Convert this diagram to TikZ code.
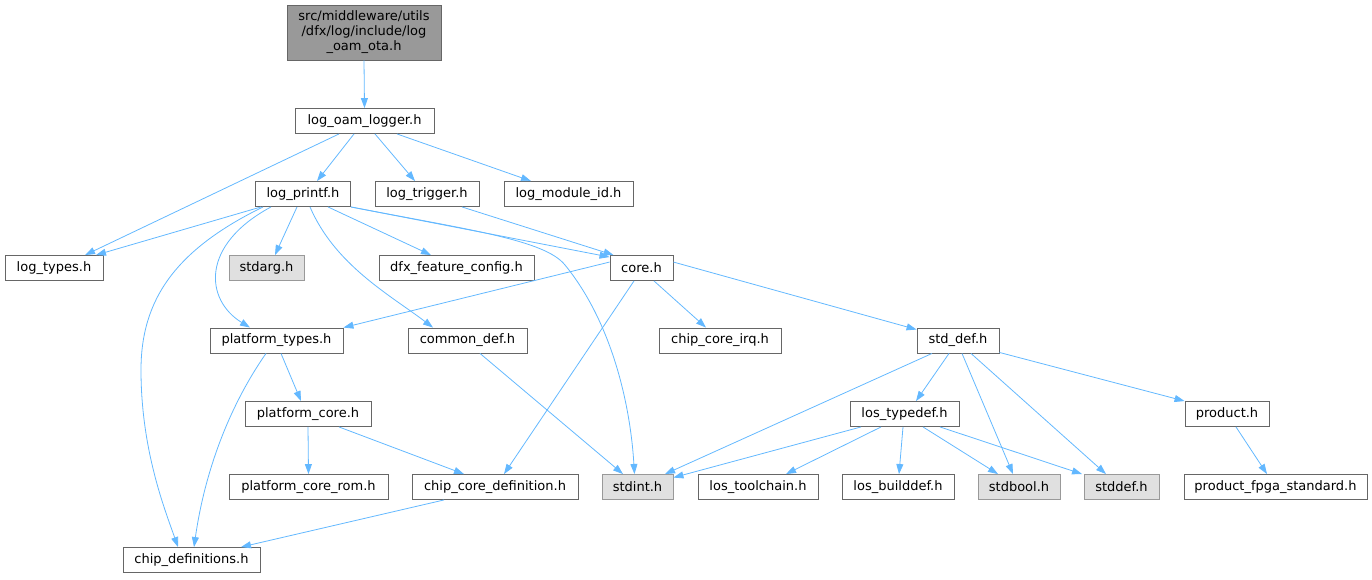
\documentclass[tikz,border=0pt]{standalone}
\usepackage{fontspec}
\setmainfont{DejaVu Sans}
\usetikzlibrary{arrows.meta}
\definecolor{edgec}{HTML}{63B8FF}
\definecolor{bord}{HTML}{666666}
\definecolor{gbord}{HTML}{999999}
\definecolor{gfill}{HTML}{E0E0E0}
\definecolor{rootfill}{HTML}{999999}
\tikzset{
 file/.style={draw=bord, fill=white, line width=0.9pt, minimum height=25pt, inner sep=0pt, font=\fontsize{13}{15}\selectfont, anchor=center},
 sys/.style={file, draw=gbord, fill=gfill},
 dep/.style={draw=edgec, line width=0.8pt, -{Triangle[length=10pt,width=7pt]}}
}
\begin{document}
\begin{tikzpicture}[x=1pt,y=-1pt]
\useasboundingbox (0,0) rectangle (1372,579);
\node[file, minimum width=154pt, minimum height=55pt, fill=rootfill, align=center] (root) at (364,32.5) {src/middleware/utils\\/dfx/log/include/log\\\_oam\_ota.h};
\node[file, minimum width=139pt] (lol) at (364.5,121) {log\_oam\_logger.h};
\node[file, minimum width=95pt] (lp) at (303,194) {log\_printf.h};
\node[file, minimum width=104pt] (ltr) at (427,194) {log\_trigger.h};
\node[file, minimum width=129pt] (lmi) at (568.5,194) {log\_module\_id.h};
\node[file, minimum width=98pt] (lty) at (54,268) {log\_types.h};
\node[sys, minimum width=75pt] (sa) at (266.5,268) {stdarg.h};
\node[file, minimum width=155pt] (dfc) at (456.5,268) {dfx\_feature\_config.h};
\node[file, minimum width=63pt] (core) at (641.5,268) {core.h};
\node[file, minimum width=133pt] (pt) at (276.5,340.5) {platform\_types.h};
\node[file, minimum width=119pt] (cd) at (467.5,340.5) {common\_def.h};
\node[file, minimum width=122pt] (cci) at (720,340.5) {chip\_core\_irq.h};
\node[file, minimum width=82pt] (sd) at (958,340.5) {std\_def.h};
\node[file, minimum width=126pt] (pc) at (308,414) {platform\_core.h};
\node[file, minimum width=109pt] (lt) at (904.5,414) {los\_typedef.h};
\node[file, minimum width=84pt] (prod) at (1227,414) {product.h};
\node[file, minimum width=159pt] (pcr) at (308.5,487) {platform\_core\_rom.h};
\node[file, minimum width=166pt] (ccd) at (495,487) {chip\_core\_definition.h};
\node[sys, minimum width=71pt] (si) at (637.5,487) {stdint.h};
\node[file, minimum width=120pt] (ltc) at (758,487) {los\_toolchain.h};
\node[file, minimum width=112pt] (lbd) at (898,487) {los\_builddef.h};
\node[sys, minimum width=82pt] (sb) at (1019,487) {stdbool.h};
\node[sys, minimum width=75pt] (sdf) at (1121.5,487) {stddef.h};
\node[file, minimum width=183pt] (pfs) at (1275.5,487) {product\_fpga\_standard.h};
\node[file, minimum width=137pt] (chd) at (191.5,560) {chip\_definitions.h};

\draw[dep] (root.south) -- (lol.north);
\draw[dep] ([xshift=-25.5pt]lol.south) -- ([xshift=31pt]lty.north);
\draw[dep] ([xshift=-10.5pt]lol.south) -- ([xshift=14pt]lp.north);
\draw[dep] ([xshift=10.5pt]lol.south) -- ([xshift=-12pt]ltr.north);
\draw[dep] ([xshift=32.5pt]lol.south) -- ([xshift=-37.5pt]lmi.north);

\draw[dep] ([xshift=-42pt]lp.south) -- ([xshift=42pt]lty.north);
\draw[dep] ([xshift=-6pt]lp.south) -- ([xshift=8.5pt]sa.north);
\draw[dep] ([xshift=25pt]lp.south) -- ([xshift=-25.5pt]dfc.north);
\draw[dep] (lp.south east) -- ([yshift=-2pt]core.north west);
\draw[dep] (lp.south east) .. controls (470,230) and (545,240) .. (565,265) .. controls (610,320) and (630,400) .. ([xshift=-3pt]si.north);
\draw[dep] ([xshift=-32pt]lp.south) .. controls (200,245) and (205,300) .. ([xshift=-26.5pt]pt.north);
\draw[dep] ([xshift=-40pt]lp.south) .. controls (175,250) and (141,300) .. (141,370) .. controls (141,450) and (165,510) .. ([xshift=-13.5pt]chd.north);
\draw[dep] ([xshift=7pt]lp.south) .. controls (335,265) and (390,295) .. ([xshift=-34.5pt]cd.north);

\draw[dep] ([xshift=35pt]ltr.south) -- ([xshift=4pt]core.north west);

\draw[dep] ([yshift=-7pt]core.north west) -- (pt.north east);
\draw[dep] ([xshift=-7.5pt]core.south) -- ([xshift=9pt]ccd.north);
\draw[dep] ([xshift=12.5pt]core.south) -- ([xshift=-14pt]cci.north);
\draw[dep] ([yshift=-7pt]core.north east) -- ([yshift=-2pt]sd.north west);

\draw[dep] ([xshift=4.5pt]pt.south) -- ([xshift=-7pt]pc.north);
\draw[dep] ([xshift=-10.5pt]pt.south) .. controls (230,405) and (205,470) .. ([xshift=2.5pt]chd.north);
\draw[dep] ([xshift=12.5pt]cd.south) -- ([xshift=-14.5pt]si.north);
\draw[dep] (pc.south) -- (pcr.north);
\draw[dep] ([xshift=31pt]pc.south) -- ([xshift=-31pt]ccd.north);
\draw[dep] ([xshift=-51pt]ccd.south) -- ([xshift=49.5pt]chd.north);

\draw[dep] ([xshift=-26pt]sd.south) -- ([xshift=27.5pt]si.north);
\draw[dep] ([xshift=-9pt]sd.south) -- ([xshift=11.5pt]lt.north);
\draw[dep] ([xshift=4pt]sd.south) -- ([xshift=-6pt]sb.north);
\draw[dep] ([xshift=13pt]sd.south) -- ([xshift=-15.5pt]sdf.north);
\draw[dep] ([yshift=1pt]sd.south east) -- (prod.north west);

\draw[dep] ([xshift=-43.5pt]lt.south) -- ([yshift=-3.5pt]si.north east);
\draw[dep] ([xshift=-23.5pt]lt.south) -- ([xshift=28pt]ltc.north);
\draw[dep] ([xshift=-1.5pt]lt.south) -- ([xshift=1pt]lbd.north);
\draw[dep] ([xshift=18.5pt]lt.south) -- ([xshift=-21pt]sb.north);
\draw[dep] ([xshift=35.5pt]lt.south) -- ([xshift=-39.5pt]sdf.north);

\draw[dep] ([xshift=9pt]prod.south) -- ([xshift=-8.5pt]pfs.north);
\end{tikzpicture}
\end{document}
